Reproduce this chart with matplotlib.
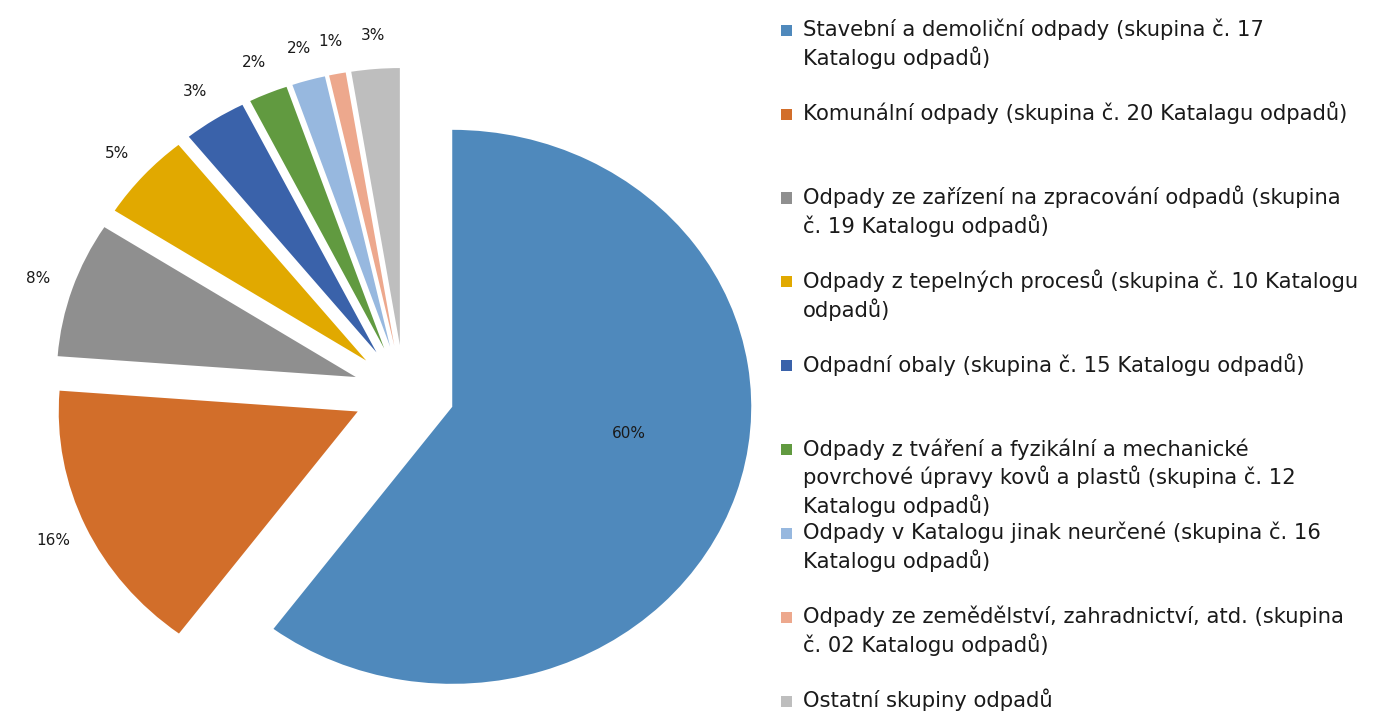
import matplotlib
matplotlib.use('Agg')
import matplotlib.pyplot as plt
import numpy as np
from matplotlib.patches import Rectangle

categories = [
    "Stavební a demoliční odpady (skupina č. 17\nKatalogu odpadů)",
    "Komunální odpady (skupina č. 20 Katalagu odpadů)",
    "Odpady ze zařízení na zpracování odpadů (skupina\nč. 19 Katalogu odpadů)",
    "Odpady z tepelných procesů (skupina č. 10 Katalogu\nodpadů)",
    "Odpadní obaly (skupina č. 15 Katalogu odpadů)",
    "Odpady z tváření a fyzikální a mechanické\npovrchové úpravy kovů a plastů (skupina č. 12\nKatalogu odpadů)",
    "Odpady v Katalogu jinak neurčené (skupina č. 16\nKatalogu odpadů)",
    "Odpady ze zemědělství, zahradnictví, atd. (skupina\nč. 02 Katalogu odpadů)",
    "Ostatní skupiny odpadů",
]
shares = [60.2, 16.0, 7.9, 5.1, 3.4, 2.1, 1.8, 0.9, 2.6]
colors = ['#4F89BC', '#D26E2A', '#8F8F8F', '#E1A900', '#3A62AA',
          '#619A40', '#97B8DF', '#EDA88D', '#BEBEBE']

plt.rcParams['font.family'] = ['DejaVu Sans']
TXT = '#1a1a1a'

W, H = 1386, 715
fig = plt.figure(figsize=(W / 100, H / 100), dpi=100)
ax_w = 760
ax = fig.add_axes([0, 0, ax_w / W, 1])
cx, cy = 404, 392      # pie centre, pixels from top-left
rx, ry = 299, 277      # radius in pixels (horizontal / vertical)

wedges, texts, autotexts = ax.pie(
    shares, colors=colors, startangle=90, counterclock=False,
    explode=[0.17] * len(shares), autopct='%.0f%%', pctdistance=1.12,
    textprops=dict(fontsize=11, color=TXT),
    wedgeprops=dict(linewidth=0))
ax.set_aspect('auto')
ax.set_xlim(-cx / rx, (ax_w - cx) / rx)
ax.set_ylim(-(H - cy) / ry, cy / ry)

# big slice label inside
w0 = wedges[0]
mid = np.deg2rad((w0.theta1 + w0.theta2) / 2 + 9)
autotexts[0].set_position((w0.center[0] + 0.6 * np.cos(mid),
                           w0.center[1] + 0.6 * np.sin(mid)))

# legend drawn manually
x_sq, x_txt = 781, 803
base0, step, lstep = 36, 83.9, 28.8
for i, (lab, col) in enumerate(zip(categories, colors)):
    yb = base0 + step * i
    fig.patches.append(Rectangle((x_sq / W, 1 - (yb - 0.3) / H), 11 / W, 11 / H,
                                 transform=fig.transFigure, color=col,
                                 linewidth=0, figure=fig))
    for j, line in enumerate(lab.split('\n')):
        fig.text(x_txt / W, 1 - (yb + lstep * j) / H, line, ha='left',
                 va='baseline', fontsize=15.2, color=TXT)

fig.savefig('out.png', dpi=100, facecolor='white')
